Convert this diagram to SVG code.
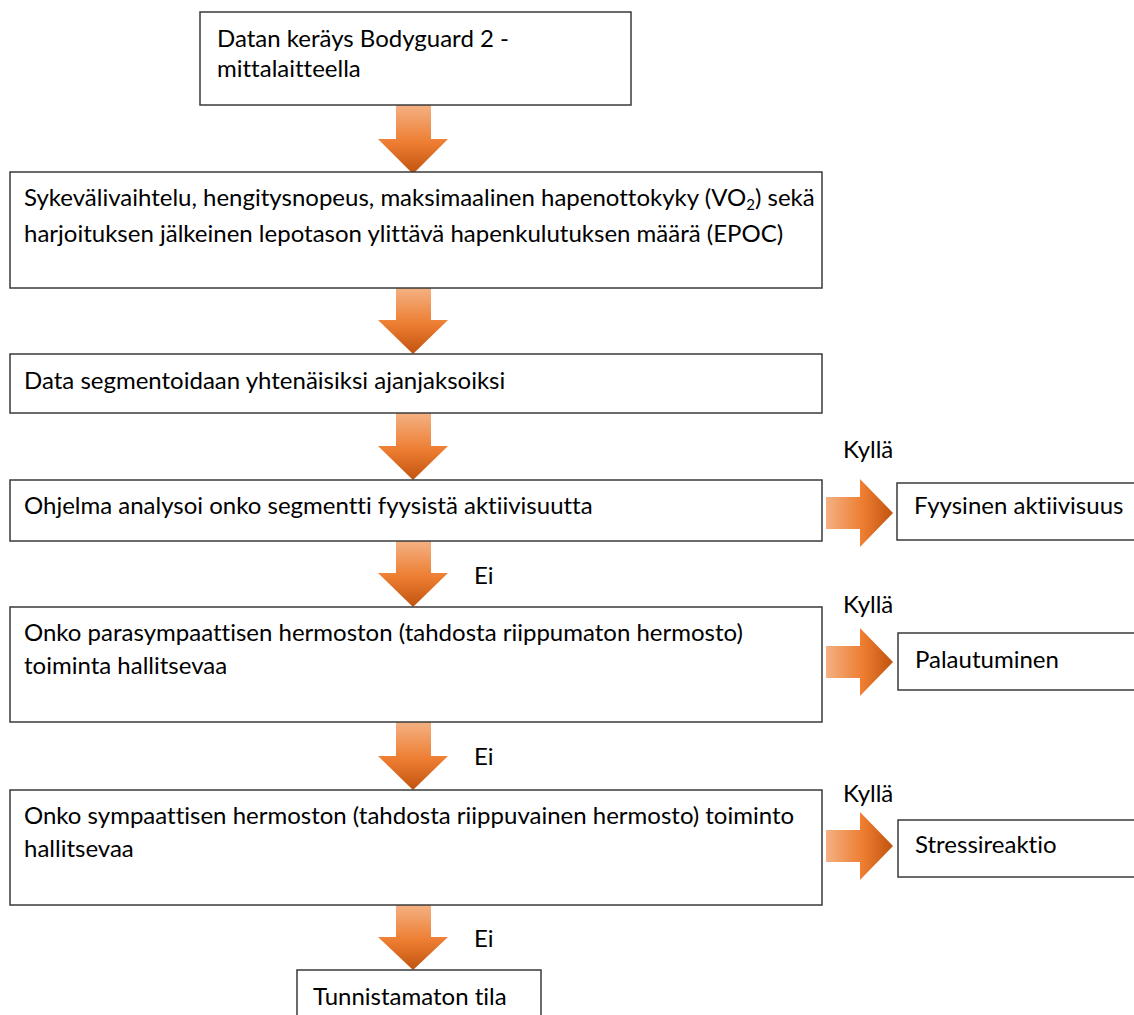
<svg xmlns="http://www.w3.org/2000/svg" width="1134" height="1015" viewBox="0 0 1134 1015">
<defs>
<linearGradient id="gd" x1="0" y1="0" x2="0" y2="1">
<stop offset="0" stop-color="#f4b183"/>
<stop offset="0.55" stop-color="#ed7d31"/>
<stop offset="1" stop-color="#c0530f"/>
</linearGradient>
<linearGradient id="gr" x1="0" y1="0" x2="1" y2="0">
<stop offset="0" stop-color="#f4b183"/>
<stop offset="0.55" stop-color="#ed7d31"/>
<stop offset="1" stop-color="#c0530f"/>
</linearGradient>
<style>
.box{fill:#fff;stroke:#3a3a3a;stroke-width:1.5}
.t{font-family:Lato,"Open Sans","Liberation Sans",sans-serif;font-size:24px;fill:#000;font-variant-ligatures:none}
.ad{fill:url(#gd)}
.ar{fill:url(#gr)}
</style>
</defs>
<rect width="1134" height="1015" fill="#fff"/>
<g id="connectors">
<path class="ad" d="M396,105 H431 V139 H448 L413,174 L378,139 H396 Z"/>
<path class="ad" d="M396,288 H431 V320 H448 L413,354 L378,320 H396 Z"/>
<path class="ad" d="M396,413 H431 V446 H448 L413,480 L378,446 H396 Z"/>
<path class="ad" d="M396,541 H431 V573 H448 L413,607 L378,573 H396 Z"/>
<path class="ad" d="M396,722 H431 V756 H448 L413,790 L378,756 H396 Z"/>
<path class="ad" d="M396,905 H431 V937 H448 L413,970 L378,937 H396 Z"/>
<path class="ar" d="M826,497 H860 V479 L893,513 L860,547 V529 H826 Z"/>
<path class="ar" d="M826,646 H860 V628 L893,662 L860,696 V678 H826 Z"/>
<path class="ar" d="M826,830 H860 V812 L893,846 L860,880 V862 H826 Z"/>
<text class="t" x="843" y="458">Kyllä</text>
<text class="t" x="843" y="613">Kyllä</text>
<text class="t" x="843" y="802">Kyllä</text>
<text class="t" x="474" y="584">Ei</text>
<text class="t" x="474" y="765">Ei</text>
<text class="t" x="474" y="947">Ei</text>
</g>
<g id="n1">
<rect class="box" x="200" y="12" width="431" height="93"/>
<text class="t" x="217" y="47">Datan keräys Bodyguard 2 -</text>
<text class="t" x="217" y="77">mittalaitteella</text>
</g>
<g id="n2">
<rect class="box" x="10" y="172" width="812" height="116"/>
<text class="t" x="24" y="206">Sykevälivaihtelu, hengitysnopeus, maksimaalinen hapenottokyky (VO<tspan font-size="15" dy="4">2</tspan><tspan dy="-4">) sekä</tspan></text>
<text class="t" x="24" y="242">harjoituksen jälkeinen lepotason ylittävä hapenkulutuksen määrä (EPOC)</text>
</g>
<g id="n3">
<rect class="box" x="10" y="354" width="812" height="59"/>
<text class="t" x="24" y="389">Data segmentoidaan yhtenäisiksi ajanjaksoiksi</text>
</g>
<g id="n4">
<rect class="box" x="10" y="480" width="812" height="61"/>
<text class="t" x="24" y="514">Ohjelma analysoi onko segmentti fyysistä aktiivisuutta</text>
</g>
<g id="n5">
<rect class="box" x="10" y="607" width="812" height="115"/>
<text class="t" x="24" y="641">Onko parasympaattisen hermoston (tahdosta riippumaton hermosto)</text>
<text class="t" x="24" y="674">toiminta hallitsevaa</text>
</g>
<g id="n6">
<rect class="box" x="10" y="790" width="812" height="115"/>
<text class="t" x="24" y="824">Onko sympaattisen hermoston (tahdosta riippuvainen hermosto) toiminto</text>
<text class="t" x="24" y="857">hallitsevaa</text>
</g>
<g id="n7">
<rect class="box" x="297" y="970" width="244" height="60"/>
<text class="t" x="313" y="1005">Tunnistamaton tila</text>
</g>
<g id="n8">
<rect class="box" x="897" y="483" width="240" height="57"/>
<text class="t" x="914" y="514">Fyysinen aktiivisuus</text>
</g>
<g id="n9">
<rect class="box" x="898" y="633" width="240" height="57"/>
<text class="t" x="915" y="668">Palautuminen</text>
</g>
<g id="n10">
<rect class="box" x="898" y="820" width="240" height="57"/>
<text class="t" x="915" y="853">Stressireaktio</text>
</g>
</svg>
